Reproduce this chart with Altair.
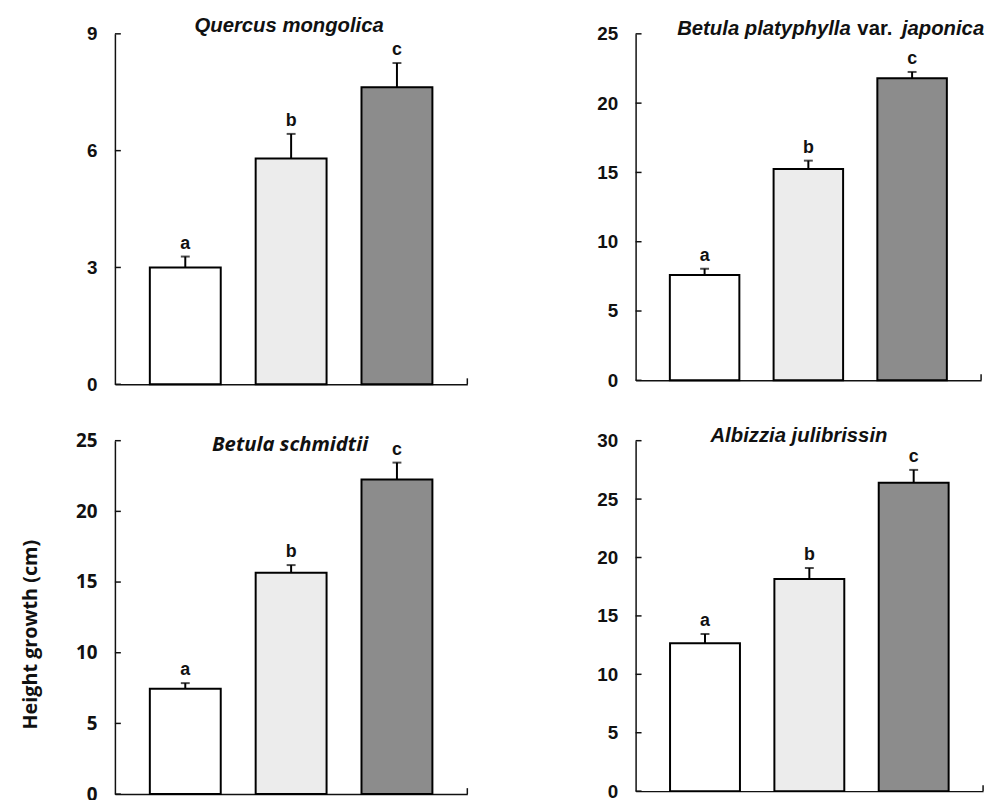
import altair as alt
import pandas as pd

# ---- data ----
treatments = ["T1", "T2", "T3"]
letters = ["a", "b", "c"]

species = ["Quercus mongolica", "Betula platyphylla var. japonica",
           "Betula schmidtii", "Albizzia julibrissin"]

q_means = [3.0, 5.8, 7.63]
q_errs = [0.28, 0.63, 0.62]

bp_means = [7.6, 15.25, 21.8]
bp_errs = [0.45, 0.6, 0.45]

bs_means = [7.45, 15.65, 22.25]
bs_errs = [0.4, 0.55, 1.2]

aj_means = [12.65, 18.15, 26.4]
aj_errs = [0.8, 0.95, 1.1]

y_max = [9, 25, 25, 30]
y_ticks = [[0, 3, 6, 9], [0, 5, 10, 15, 20, 25],
           [0, 5, 10, 15, 20, 25], [0, 5, 10, 15, 20, 25, 30]]

y_label = "Height growth (cm)"

# ---- styling ----
FILLS = ["#ffffff", "#ececec", "#8c8c8c"]
ARIAL = "Liberation Sans"
OPEN = "Open Sans"
INK = "#111111"


def panel(means, errs, ymax, ticks, width, height, titles, tick_font, ylab=None):
    df = pd.DataFrame({
        "treatment": treatments,
        "mean": means,
        "err": errs,
        "letter": letters,
    })
    df["top"] = df["mean"] + df["err"]

    xenc = alt.X("treatment:N", sort=treatments,
                 scale=alt.Scale(paddingInner=0.33, paddingOuter=0.33),
                 axis=alt.Axis(labels=False, ticks=False, title=None,
                               domainColor=INK, domainWidth=1.5))
    yscale = alt.Scale(domain=[0, ymax], nice=False, zero=True)
    yaxis = alt.Axis(values=ticks, tickSize=0, labelPadding=18,
                     labelFont=tick_font, labelFontSize=19,
                     labelFontWeight="bold", labelColor=INK,
                     domainColor=INK, domainWidth=1.5, grid=False,
                     title=None)

    def Y(field):
        return alt.Y(field, scale=yscale, axis=yaxis)

    base = alt.Chart(df)
    bars = base.mark_bar(stroke="black", strokeWidth=2).encode(
        x=xenc,
        y=Y("mean:Q"),
        fill=alt.Fill("treatment:N", scale=alt.Scale(domain=treatments, range=FILLS),
                      legend=None),
    )
    err_line = base.mark_rule(color="black", strokeWidth=2).encode(
        x=xenc, y=Y("mean:Q"), y2="top:Q")
    cap = base.mark_tick(color="black", size=9, thickness=2).encode(
        x=xenc, y=Y("top:Q"))
    lab = base.mark_text(baseline="bottom", dy=-4, font=ARIAL, fontSize=18,
                         fontWeight="bold", color=INK).encode(
        x=xenc, y=Y("top:Q"), text="letter:N")

    tick_df = pd.DataFrame({"v": ticks})
    tick_marks = alt.Chart(tick_df).mark_rule(color=INK, strokeWidth=1.5).encode(
        y=Y("v:Q"), x=alt.value(0), x2=alt.value(6))
    end_tick = alt.Chart(pd.DataFrame({"k": [0]})).mark_rule(color=INK, strokeWidth=1.5).encode(
        x=alt.value(width), y=alt.value(height), y2=alt.value(height - 6))

    layers = [bars, err_line, cap, lab, tick_marks, end_tick]
    for (txt, xr, yr, align, style, font, size) in titles:
        layers.append(
            alt.Chart(pd.DataFrame({"t": [txt]})).mark_text(
                align=align, baseline="alphabetic", font=font, fontSize=size,
                fontWeight="bold", fontStyle=style, color=INK).encode(
                x=alt.value(xr), y=alt.value(yr), text="t:N"))
    if ylab:
        layers.append(
            alt.Chart(pd.DataFrame({"t": [ylab]})).mark_text(
                angle=270, align="center", baseline="middle", font=OPEN,
                fontSize=20, fontWeight="bold", color=INK).encode(
                x=alt.value(-85), y=alt.value(196), text="t:N"))
    return alt.layer(*layers).properties(width=width, height=height)


p1 = panel(q_means, q_errs, y_max[0], y_ticks[0], 356, 354,
           [("Quercus mongolica", 176, -2, "center", "italic", ARIAL, 20.5)], ARIAL)
p2 = panel(bp_means, bp_errs, y_max[1], y_ticks[1], 349, 350,
           [("Betula platyphylla", 42, 1, "left", "italic", ARIAL, 20.5),
            ("var.", 224, 1, "left", "normal", ARIAL, 20.5),
            ("japonica", 269, 1, "left", "italic", ARIAL, 20.5)], ARIAL)
p3 = panel(bs_means, bs_errs, y_max[2], y_ticks[2], 356, 357,
           [("Betula schmidtii", 177, 10, "center", "italic", OPEN, 20.5)], OPEN, ylab=y_label)
p4 = panel(aj_means, aj_errs, y_max[3], y_ticks[3], 351, 354,
           [("Albizzia julibrissin", 165, 1, "center", "italic", ARIAL, 20.5)], ARIAL)

chart = alt.concat(p1, p2, p3, p4, columns=2,
                   spacing=alt.RowColnumber(row=32, column=129)).properties(
    align="each",
    padding={"left": 13, "top": 4, "right": 5, "bottom": 5},
    background="white",
).configure_view(stroke=None)

chart.save("out.html", embed_options={"renderer": "svg", "actions": False})
